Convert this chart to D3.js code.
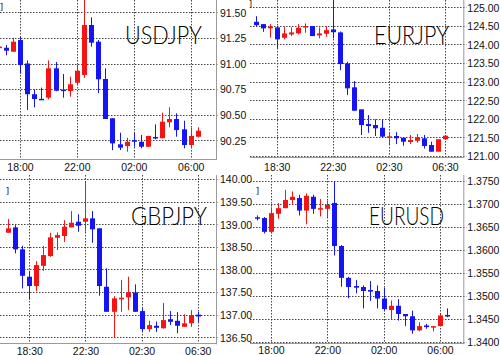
<!DOCTYPE html>
<html><head><meta charset="utf-8">
<script src="https://cdn.jsdelivr.net/npm/d3@7"></script>
<style>html,body{margin:0;padding:0;background:#fff;} svg{display:block;}</style>
</head><body>
<svg id="c" width="500" height="355"></svg>
<script>
// ---- categories (30-minute bars) ----
const times = ["16:30","17:00","17:30","18:00","18:30","19:00","19:30","20:00","20:30","21:00","21:30",
  "22:00","22:30","23:00","23:30","00:00","00:30","01:00","01:30","02:00","02:30","03:00","03:30",
  "04:00","04:30","05:00","05:30","06:00","06:30"];

// ---- USDJPY (16:30 .. 06:30) ----
const usdjpyOpen  = [91.150,91.154,91.115,91.229,91.000,90.700,90.655,90.666,90.953,90.745,90.731,90.812,90.888,91.376,91.213,90.849,90.465,90.211,90.194,90.250,90.236,90.187,90.282,90.270,90.426,90.458,90.357,90.204,90.285];
const usdjpyHigh  = [91.170,91.180,91.252,91.260,91.030,90.748,90.764,91.030,91.015,90.897,90.871,90.985,91.650,91.451,91.230,90.953,90.465,90.324,90.275,90.324,90.302,90.295,90.406,90.520,90.572,90.514,90.441,90.373,90.377];
const usdjpyLow   = [91.145,91.080,91.115,90.900,90.546,90.572,90.643,90.650,90.730,90.666,90.676,90.790,90.861,91.164,90.710,90.458,90.154,90.155,90.139,90.187,90.172,90.187,90.260,90.270,90.377,90.285,90.172,90.172,90.279];
const usdjpyClose = [91.165,91.125,91.213,90.985,90.700,90.653,90.648,90.953,90.734,90.740,90.797,90.930,91.376,91.203,90.846,90.458,90.220,90.178,90.236,90.244,90.187,90.292,90.276,90.432,90.458,90.350,90.204,90.292,90.344];

// ---- EURJPY (17:00 .. 06:30) ----
const eurjpyOpen  = [124.610,124.548,124.433,124.460,124.180,124.270,124.298,124.460,124.495,124.245,124.288,124.405,124.325,123.490,122.847,122.255,121.860,121.833,121.760,121.510,121.538,121.490,121.376,121.410,121.476,121.296,121.116,121.450];
const eurjpyHigh  = [124.760,124.548,124.548,124.476,124.476,124.460,124.548,124.567,124.495,124.460,124.495,125.400,124.350,123.535,123.016,122.255,122.100,121.987,121.995,121.640,121.640,121.490,121.565,121.590,121.565,121.384,121.450,121.555];
const eurjpyLow   = [124.490,124.340,124.180,123.895,124.137,124.226,124.270,124.315,124.226,124.164,124.207,124.164,123.310,122.640,122.218,121.565,121.626,121.538,121.500,121.320,121.320,121.277,121.320,121.357,121.200,121.116,121.116,121.430];
const eurjpyClose = [124.520,124.433,124.476,124.137,124.298,124.325,124.450,124.495,124.226,124.298,124.387,124.330,123.473,122.820,122.218,121.833,121.806,121.745,121.520,121.530,121.476,121.384,121.430,121.500,121.270,121.116,121.450,121.546];

// ---- GBPJPY (17:00 .. 06:30) ----
const gbpjpyOpen  = [138.812,138.930,138.445,137.840,137.633,138.080,138.296,138.700,138.740,138.930,139.055,139.055,139.130,138.910,137.617,137.064,137.340,137.385,137.493,137.080,136.680,136.755,136.700,136.900,136.865,136.733,136.810,137.000];
const gbpjpyHigh  = [139.115,138.980,138.524,137.970,138.186,138.520,138.810,138.820,139.090,139.290,139.220,139.956,139.290,138.910,138.025,137.410,137.770,137.840,137.670,137.140,136.865,136.850,137.260,137.080,137.060,137.010,137.100,137.060];
const gbpjpyLow   = [138.812,138.356,137.580,137.340,137.520,137.970,138.280,138.430,138.610,138.930,138.834,138.834,138.590,137.420,137.064,136.490,137.064,137.100,137.064,136.620,136.620,136.620,136.690,136.770,136.590,136.733,136.730,136.840];
const gbpjpyClose = [138.909,138.445,137.860,137.633,138.097,138.318,138.710,138.760,138.945,139.033,138.967,139.130,138.887,137.633,137.064,137.360,137.375,137.493,137.064,136.680,136.770,136.710,136.880,136.843,136.755,136.810,136.990,136.960];

// ---- EURUSD (17:00 .. 06:30) ----
const eurusdOpen  = [1.36710,1.36693,1.36393,1.36785,1.36908,1.37086,1.37129,1.36856,1.37157,1.36878,1.36893,1.37021,1.36084,1.35391,1.35212,1.35191,1.35127,1.35105,1.34940,1.34689,1.34783,1.34603,1.34554,1.34247,1.34354,1.34318,1.34339,1.34582];
const eurusdHigh  = [1.36750,1.36715,1.36929,1.37021,1.37307,1.37272,1.37200,1.37229,1.37200,1.37107,1.37071,1.37487,1.36105,1.35412,1.35341,1.35226,1.35320,1.35226,1.35176,1.34900,1.34925,1.34603,1.34676,1.34425,1.34389,1.34339,1.34603,1.34725];
const eurusdLow   = [1.36642,1.36356,1.36393,1.36678,1.36908,1.36986,1.36749,1.36556,1.36786,1.36728,1.36715,1.35878,1.35197,1.34946,1.35054,1.34725,1.34891,1.34725,1.34676,1.34496,1.34461,1.34339,1.34174,1.34225,1.34282,1.34225,1.34339,1.34532];
const eurusdClose = [1.36680,1.36393,1.36800,1.36908,1.37086,1.37157,1.36856,1.37178,1.36893,1.36908,1.36979,1.36084,1.35391,1.35191,1.35176,1.35105,1.35091,1.34940,1.34710,1.34783,1.34603,1.34554,1.34247,1.34339,1.34318,1.34339,1.34571,1.34548];

// ---- tick labels ----
const usdjpyTicks = [90.25, 90.50, 90.75, 91.00, 91.25, 91.50];
const eurjpyTicks = [121.0, 121.5, 122.0, 122.5, 123.0, 123.5, 124.0, 124.5, 125.0];
const gbpjpyTicks = [136.5, 137.0, 137.5, 138.0, 138.5, 139.0, 139.5, 140.0];
const eurusdTicks = [1.3400, 1.3450, 1.3500, 1.3550, 1.3600, 1.3650, 1.3700, 1.3750];
const timeTicksA = ["18:00", "22:00", "02:00", "06:00"];
const timeTicksB = ["18:30", "22:30", "02:30", "06:30"];

function toDate(s) {
  const [h, m] = s.split(":").map(Number);
  return new Date(2010, 0, h >= 12 ? 1 : 2, h, m);
}
function build(o, h, l, c, t) {
  return o.map((v, i) => ({ t: toDate(t[i]), o: v, h: h[i], l: l[i], c: c[i] }));
}

const panels = [
  { name: "USDJPY", ox: 0, oy: 0, right: 216, bottom: 158.5,
    xa: ["18:00", "06:00", 20, 190.7], ya: [91.5, 90.25, 12.3, 140.3],
    yTicks: usdjpyTicks, fmt: d3.format(".2f"), xTicks: timeTicksA, xLabelY: 171,
    title: [125, 44.3, 77], mark: [-1, 10],
    data: build(usdjpyOpen, usdjpyHigh, usdjpyLow, usdjpyClose, times) },
  { name: "EURJPY", ox: 250, oy: 0, right: 213.3, bottom: 156.5,
    xa: ["18:30", "06:30", 26.7, 195], ya: [125, 121, 7.3, 156],
    yTicks: eurjpyTicks, fmt: d3.format(".2f"), xTicks: timeTicksB, xLabelY: 171,
    title: [124, 44.3, 75], mark: [-2, 7],
    data: build(eurjpyOpen, eurjpyHigh, eurjpyLow, eurjpyClose, times.slice(1)) },
  { name: "GBPJPY", ox: 0, oy: 175, right: 216, bottom: 168.3,
    xa: ["18:30", "06:30", 29.3, 197.7], ya: [140, 136.5, 4, 162.3],
    yTicks: gbpjpyTicks, fmt: d3.format(".2f"), xTicks: timeTicksB, xLabelY: 179.5,
    title: [131, 50, 76], mark: [5, 18.5],
    data: build(gbpjpyOpen, gbpjpyHigh, gbpjpyLow, gbpjpyClose, times.slice(1)) },
  { name: "EURUSD", ox: 250, oy: 175, right: 213.3, bottom: 168.3,
    xa: ["18:00", "06:00", 21, 190], ya: [1.375, 1.34, 6, 166.7],
    yTicks: eurusdTicks, fmt: d3.format(".4f"), xTicks: timeTicksA, xLabelY: 179,
    title: [119, 50, 75], mark: [5, 18.5],
    data: build(eurusdOpen, eurusdHigh, eurusdLow, eurusdClose, times.slice(1)) }
];

const svg = d3.select("#c");
svg.append("rect").attr("width", 500).attr("height", 355).attr("fill", "#fff");
const RED = "#f51414", BLUE = "#1414f5";

panels.forEach((p, pi) => {
  const g = svg.append("g").attr("transform", `translate(${p.ox},${p.oy})`);
  const x = d3.scaleTime().domain([toDate(p.xa[0]), toDate(p.xa[1])]).range([p.xa[2], p.xa[3]]);
  const y = d3.scaleLinear().domain([p.ya[0], p.ya[1]]).range([p.ya[2], p.ya[3]]);

  const clipId = "clip" + pi;
  g.append("clipPath").attr("id", clipId).append("rect")
    .attr("x", 0).attr("y", -10).attr("width", p.right).attr("height", p.bottom + 10);

  // horizontal grid
  g.append("g").selectAll("line").data(p.yTicks).join("line")
    .attr("x1", 0).attr("x2", p.right + 3)
    .attr("y1", d => Math.round(y(d)) + 0.5).attr("y2", d => Math.round(y(d)) + 0.5)
    .attr("stroke", "#444").attr("stroke-dasharray", "1.5,1.5");
  // vertical grid
  g.append("g").selectAll("line").data(p.xTicks.map(toDate)).join("line")
    .attr("x1", d => Math.round(x(d)) + 0.5).attr("x2", d => Math.round(x(d)) + 0.5)
    .attr("y1", 0).attr("y2", p.bottom)
    .attr("stroke", "#444").attr("stroke-dasharray", "1.5,1.5");

  // frame (right + bottom)
  g.append("line").attr("x1", p.right + 0.5).attr("x2", p.right + 0.5).attr("y1", 0).attr("y2", p.bottom + 1)
    .attr("stroke", "#9a9a9a");
  g.append("line").attr("x1", 0).attr("x2", p.right + 1).attr("y1", Math.round(p.bottom) + 0.5).attr("y2", Math.round(p.bottom) + 0.5)
    .attr("stroke", "#9a9a9a");

  // candles
  const cg = g.append("g").attr("clip-path", `url(#${clipId})`);
  const cand = cg.selectAll("g").data(p.data).join("g");
  cand.append("line")
    .attr("x1", d => Math.round(x(d.t)) + 0.5).attr("x2", d => Math.round(x(d.t)) + 0.5)
    .attr("y1", d => y(d.h)).attr("y2", d => y(d.l))
    .attr("stroke", d => d.c >= d.o ? RED : BLUE).attr("stroke-width", 1);
  cand.append("rect")
    .attr("x", d => Math.round(x(d.t)) - 2).attr("width", 5)
    .attr("y", d => y(Math.max(d.o, d.c)))
    .attr("height", d => Math.max(1.5, Math.abs(y(d.o) - y(d.c))))
    .attr("fill", d => d.c >= d.o ? RED : BLUE);

  // right axis
  const ay = g.append("g").attr("transform", `translate(${p.right + 4},0)`)
    .call(d3.axisRight(y).tickValues(p.yTicks).tickFormat(p.fmt).tickSize(0).tickPadding(0));
  ay.select(".domain").remove();
  ay.selectAll("text").attr("font-family", "Liberation Sans, Arial, sans-serif").attr("font-size", 10.5)
    .attr("fill", "#111").attr("dy", "0.36em");

  // bottom axis
  const ax = g.append("g").attr("transform", `translate(0,0)`)
    .call(d3.axisBottom(x).tickValues(p.xTicks.map(toDate)).tickFormat(d3.timeFormat("%H:%M")).tickSize(0));
  ax.select(".domain").remove();
  ax.selectAll("text").attr("font-family", "Liberation Sans, Arial, sans-serif").attr("font-size", 10.5)
    .attr("fill", "#111").attr("dy", null).attr("y", p.xLabelY);

  // title
  g.append("text").text(p.name)
    .attr("x", p.title[0]).attr("y", p.title[1])
    .attr("textLength", p.title[2]).attr("lengthAdjust", "spacingAndGlyphs")
    .attr("font-family", "Lato, 'Open Sans', sans-serif").attr("font-weight", 300)
    .attr("font-size", 24.5).attr("fill", "#000");

  // small leftover mark top-left
  g.append("text").text("]").attr("x", p.mark[0]).attr("y", p.mark[1])
    .attr("font-family", "DejaVu Sans Mono, monospace").attr("font-size", 9).attr("fill", "#222");
});
</script>
</body></html>
